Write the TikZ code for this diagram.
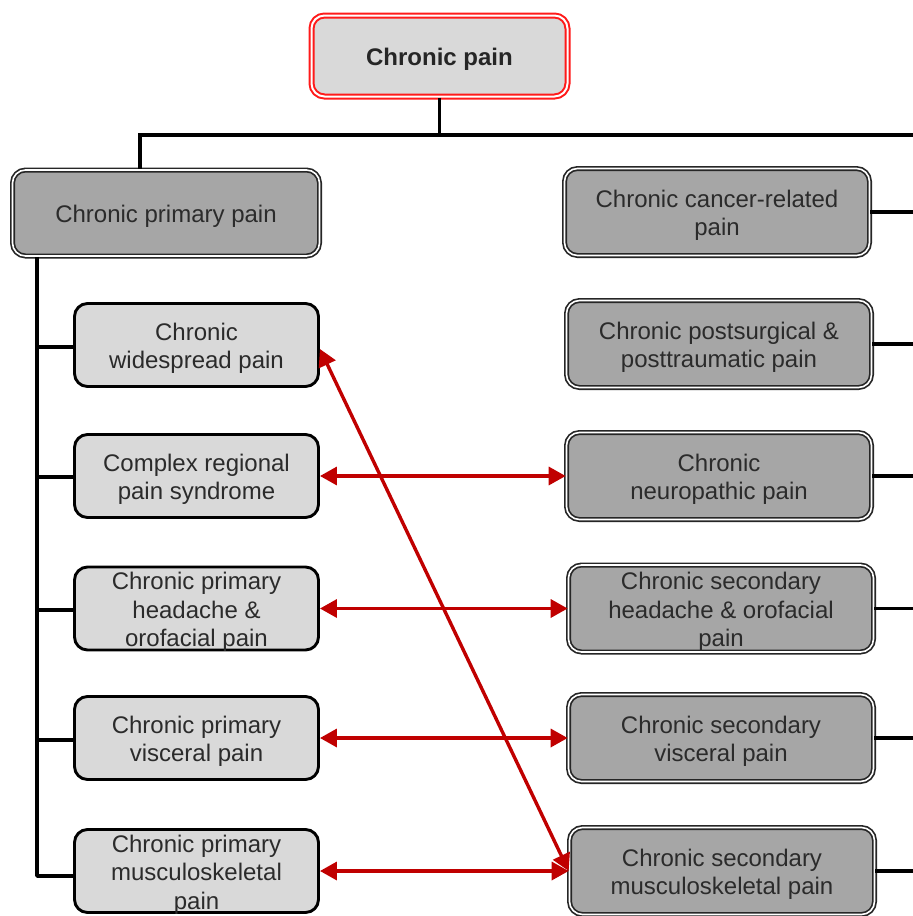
\documentclass[tikz,border=0pt]{standalone}
\usepackage{fontspec}
\setmainfont{Liberation Sans}
\usetikzlibrary{arrows.meta}
\definecolor{lightbox}{HTML}{D9D9D9}
\definecolor{darkbox}{HTML}{A6A6A6}
\definecolor{txtgray}{HTML}{2B2B2B}
\definecolor{arrowred}{HTML}{C00000}
\definecolor{topred}{HTML}{FF1A1A}
\begin{document}
\begin{tikzpicture}[x=1pt,y=-1pt,
 boxbase/.style={rounded corners=13pt, inner sep=0pt},
 topbox/.style={boxbase, fill=lightbox, draw=topred, line width=2pt, double=white, double distance=2pt, minimum width=256pt, minimum height=81pt},
 catbox/.style={boxbase, fill=darkbox, draw=black!85, line width=1.7pt, double=white, double distance=1.6pt, minimum width=305pt, minimum height=87pt},
 subbox/.style={boxbase, fill=lightbox, draw=black, line width=2.9pt, minimum width=244pt, minimum height=83pt},
 txt/.style={text=txtgray, align=center, font=\fontsize{24}{28.5}\selectfont, inner sep=0pt, yshift=-3.5pt},
 conn/.style={line width=3.4pt, black},
 rel/.style={line width=3.4pt, arrowred, {Triangle[length=17pt,width=18pt]}-{Triangle[length=17pt,width=18pt]}}
]
\useasboundingbox[fill=white] (0,0) rectangle (913,916);

% top
\node[topbox] (top) at (439.5,56) {};
\node[txt, font=\fontsize{24}{28.5}\selectfont\bfseries, text=black!85] at (top) {Chronic pain};

% primary
\node[catbox, minimum width=307pt, minimum height=86pt] (pp) at (166,213) {};
\node[txt] at (pp) {Chronic primary pain};

% right column
\node[catbox] (c1) at (717,212) {};
\node[txt] at (c1) {Chronic cancer-related\\pain};
\node[catbox] (c2) at (719,344) {};
\node[txt] at (c2) {Chronic postsurgical \&\\posttraumatic pain};
\node[catbox] (c3) at (719,476) {};
\node[txt] at (c3) {Chronic\\neuropathic pain};
\node[catbox] (c4) at (721,608.5) {};
\node[txt] at (c4) {Chronic secondary\\headache \& orofacial\\pain};
\node[catbox] (c5) at (721,738) {};
\node[txt] at (c5) {Chronic secondary\\visceral pain};
\node[catbox] (c6) at (722,871) {};
\node[txt] at (c6) {Chronic secondary\\musculoskeletal pain};

% left column
\node[subbox] (s1) at (196.5,345) {};
\node[txt] at (s1) {Chronic\\widespread pain};
\node[subbox] (s2) at (196.5,476) {};
\node[txt] at (s2) {Complex regional\\pain syndrome};
\node[subbox] (s3) at (196.5,608.5) {};
\node[txt] at (s3) {Chronic primary\\headache \&\\orofacial pain};
\node[subbox] (s4) at (196.5,738) {};
\node[txt] at (s4) {Chronic primary\\visceral pain};
\node[subbox] (s5) at (196.5,871) {};
\node[txt] at (s5) {Chronic primary\\musculoskeletal\\pain};

% connectors (tree)
\coordinate (busL) at (140,135);
\coordinate (busR) at (913,135);
\coordinate (t1) at (37,347);
\coordinate (t2) at (37,477);
\coordinate (t3) at (37,610);
\coordinate (t4) at (37,740);
\coordinate (t5) at (37,876);

\draw[conn] (top.south) -- (top.south |- busR);
\draw[conn] (busR) -- (busL) -- (busL |- pp.north);
\draw[conn, line join=round] (t5 |- pp.south) -- (t5) -- (t5 -| s5.west);
\draw[conn] (t1) -- (t1 -| s1.west);
\draw[conn] (t2) -- (t2 -| s2.west);
\draw[conn] (t3) -- (t3 -| s3.west);
\draw[conn] (t4) -- (t4 -| s4.west);

\foreach \c in {c1,c2,c3,c4,c5,c6}{
  \draw[conn] (\c.east) -- (\c.east -| busR);
}

% relations
\draw[rel] (s2.east) -- (c3.west);
\draw[rel] (s3.east) -- (c4.west);
\draw[rel] (s4.east) -- (c5.west);
\draw[rel] (s5.east) -- (c6.west);
\draw[rel] ([yshift=-4pt]s1.east) -- (c6.west);
\end{tikzpicture}
\end{document}
